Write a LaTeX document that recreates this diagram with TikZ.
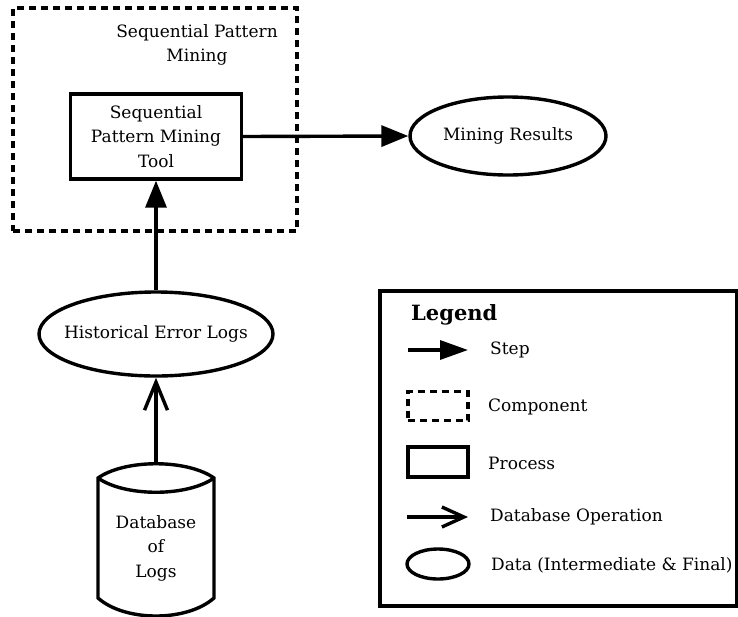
\documentclass[tikz,border=0pt]{standalone}
\usepackage{fontspec}
\setmainfont{DejaVu Serif}
\usetikzlibrary{arrows.meta,shapes.geometric}
\begin{document}
\begin{tikzpicture}[x=1pt,y=-1pt,
  every node/.style={font=\fontsize{17}{24.5}\selectfont, inner sep=0pt},
  line/.style={line width=3.4pt},
  stepline/.style={line, -{Triangle[length=27pt,width=21pt]}},
  dbline/.style={line, -{Straight Barb[length=28pt,width=23pt]}},
  component/.style={draw, line width=3.6pt, dash pattern=on 7pt off 5pt},
  process/.style={draw, line width=3.4pt, rectangle},
  data/.style={draw, line width=3.4pt, ellipse},
  legtext/.style={anchor=west}]
\useasboundingbox (0,0) rectangle (738,616);

% component: mining stage
\node[component, minimum width=284pt, minimum height=223pt] (cluster) at (155,119.5) {};
\node[align=center] (clusterlabel) at (197,45) {Sequential Pattern\\Mining};

% process box
\node[process, minimum width=171pt, minimum height=85pt, align=center] (tool) at (156,136.5)
  {Sequential\\Pattern Mining\\Tool};

% data ellipses
\node[data, minimum width=196pt, minimum height=78pt, label=center:{Mining Results}] (results) at (508,136) {};
\node[data, minimum width=234pt, minimum height=84pt, label=center:{Historical Error Logs}] (hist) at (156,334) {};

% database cylinder (body outline with lens-shaped lid)
\node[minimum width=116pt, minimum height=152pt] (db) at (156,540) {};
\node[align=center] (dbtext) at (156,548) {Database\\of\\Logs};
\draw[line, line join=miter]
  (98,478) -- (98,598) .. controls (125,622) and (187,622) .. (214,598)
  -- (214,478) .. controls (187,459) and (125,459) .. cycle;
\draw[line] (98,478) .. controls (125,497) and (187,497) .. (214,478);

% connectors
\draw[stepline] (tool.east) -- (results.west);
\draw[stepline] (hist.north) -- (tool.south);
\draw[dbline] (db.north) -- (hist.south);

% legend
\node[draw, line width=3.4pt, minimum width=357pt, minimum height=315pt] (legend) at (558.5,448.5) {};
\node[legtext, font=\fontsize{21}{24}\selectfont\bfseries] (legtitle) at (411,315) {Legend};

\coordinate (stepA) at (408,350);
\coordinate (stepB) at (468,350);
\draw[line, -{Triangle[length=28pt,width=19pt]}] (stepA) -- (stepB);
\node[legtext] (steptext) at (490,350) {Step};

\node[component, minimum width=60pt, minimum height=29pt] (legcomp) at (438,406) {};
\node[legtext] (comptext) at (488,407) {Component};

\node[process, minimum width=60pt, minimum height=30pt] (legproc) at (438,462) {};
\node[legtext] (proctext) at (488,463) {Process};

\coordinate (dbA) at (407,517);
\coordinate (dbB) at (468,517);
\draw[line, -{Straight Barb[length=22pt,width=20pt]}] (dbA) -- (dbB);
\node[legtext] (dbtexts) at (490,517) {Database Operation};

\node[data, minimum width=62pt, minimum height=30pt] (legdata) at (438,564) {};
\node[legtext] (datatext) at (491,565) {Data (Intermediate \& Final)};
\end{tikzpicture}
\end{document}
